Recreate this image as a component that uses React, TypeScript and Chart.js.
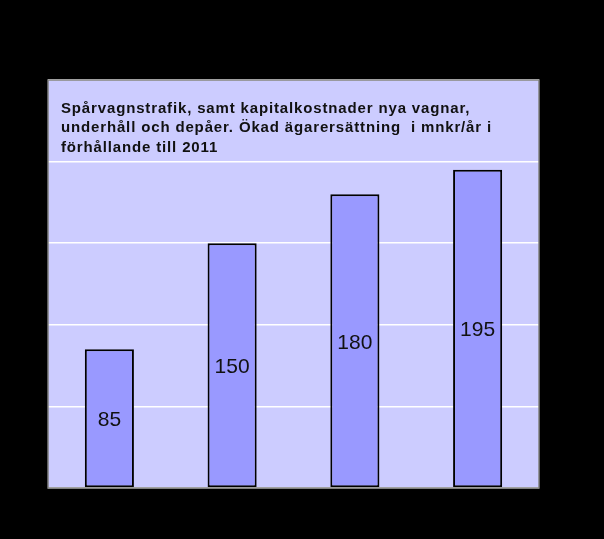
import { useEffect, useRef } from 'react';
import { Chart, registerables } from 'chart.js';

Chart.register(...registerables);

const categories = ['1', '2', '3', '4'];
const values = [85, 150, 180, 195];
const titleLines = [
  'Spårvagnstrafik, samt kapitalkostnader nya vagnar,',
  'underhåll och depåer. Ökad ägarersättning  i mnkr/år i',
  'förhållande till 2011',
];
const yMax = 250;
const yStep = 50;

// plot background, border, title and value labels drawn on the canvas
const decorPlugin = {
  id: 'decor',
  beforeDraw(chart: any) {
    const { ctx, chartArea } = chart;
    ctx.save();
    ctx.fillStyle = '#000000';
    ctx.fillRect(0, 0, chart.width, chart.height);
    ctx.fillStyle = '#CCCCFF';
    ctx.fillRect(chartArea.left, chartArea.top, chartArea.right - chartArea.left, chartArea.bottom - chartArea.top);
    ctx.restore();
  },
  afterDatasetsDraw(chart: any) {
    const { ctx, chartArea } = chart;
    ctx.save();
    // value labels inside bars
    const meta = chart.getDatasetMeta(0);
    ctx.font = '21px "Liberation Sans", Arial, sans-serif';
    ctx.fillStyle = '#111111';
    ctx.textAlign = 'center';
    ctx.textBaseline = 'middle';
    meta.data.forEach((bar: any, i: number) => {
      const mid = (bar.y + bar.base) / 2;
      ctx.fillText(String(values[i]), bar.x, mid + 2);
    });
    // title
    ctx.font = 'bold 15px "Liberation Sans", Arial, sans-serif';
    ctx.letterSpacing = '0.85px';
    ctx.textAlign = 'left';
    ctx.textBaseline = 'alphabetic';
    titleLines.forEach((line, i) => {
      ctx.fillText(line, chartArea.left + 13, chartArea.top + 32.5 + i * 19.5);
    });
    ctx.letterSpacing = '0px';
    // border
    ctx.strokeStyle = '#808080';
    ctx.lineWidth = 1.5;
    ctx.strokeRect(chartArea.left, chartArea.top, chartArea.right - chartArea.left, chartArea.bottom - chartArea.top);
    ctx.restore();
  },
};

const App = () => {
  const chartRef = useRef<HTMLCanvasElement>(null);
  const chartInstance = useRef<Chart | null>(null);

  useEffect(() => {
    document.body.style.margin = '0';
    document.body.style.background = '#000000';
    if (!chartRef.current) return;
    const ctx = chartRef.current.getContext('2d');
    if (!ctx) return;

    chartInstance.current = new Chart(ctx, {
      type: 'bar',
      data: {
        labels: categories,
        datasets: [
          {
            data: values,
            backgroundColor: '#9999FF',
            borderColor: '#000000',
            borderWidth: 2,
            borderSkipped: false,
            categoryPercentage: 1,
            barPercentage: 0.4,
          },
        ],
      },
      options: {
        animation: false,
        responsive: false,
        layout: {
          padding: { left: 48, top: 80, right: 65, bottom: 51 },
        },
        plugins: {
          legend: { display: false },
          tooltip: { enabled: false },
        },
        scales: {
          x: {
            display: false,
          },
          y: {
            min: 0,
            max: yMax,
            ticks: { display: false, stepSize: yStep },
            grid: { color: '#FFFFFF', lineWidth: 1.5, drawTicks: false },
            border: { display: false },
          },
        },
      },
      plugins: [decorPlugin],
    });

    return () => {
      if (chartInstance.current) {
        chartInstance.current.destroy();
        chartInstance.current = null;
      }
    };
  }, []);

  return (
    <div style={{ width: 604, height: 539, background: '#000000' }}>
      <canvas ref={chartRef} width={604} height={539} />
    </div>
  );
};

export default App;
